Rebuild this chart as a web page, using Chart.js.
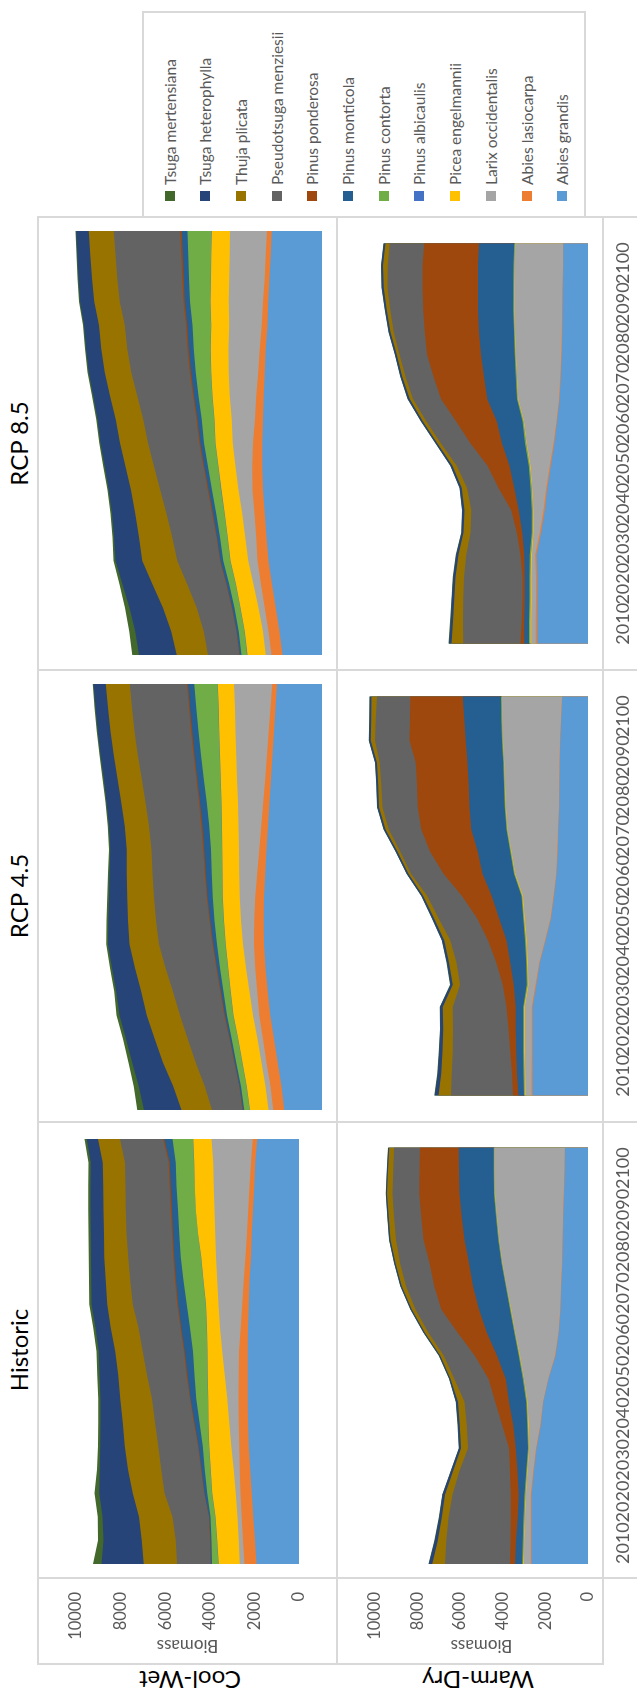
<!DOCTYPE html>
<html>
<head>
<meta charset="utf-8">
<title>Biomass by species</title>
<script src="https://cdn.jsdelivr.net/npm/chart.js@4.4.1/dist/chart.umd.min.js"></script>
<style>
  html, body { margin: 0; padding: 0; background: #fff; }
  body { width: 637px; height: 1696px; overflow: hidden; position: relative; font-family: Lato, "Open Sans", sans-serif; }
  /* the whole sheet is laid out landscape and turned a quarter turn counter-clockwise */
  #sheet { position: absolute; left: 0; top: 0; width: 1696px; height: 637px; transform-origin: 0 0; transform: translate(0px, 1696px) rotate(-90deg); }
  canvas { position: absolute; }
  .line { position: absolute; background: #d9d9d9; z-index: 5; }
  .head { position: absolute; font-size: 24px; line-height: 30px; height: 30px; text-align: center; color: #000; white-space: nowrap; }
  .rowlab { position: absolute; width: 200px; height: 30px; line-height: 30px; font-size: 24px; text-align: center; color: #000; transform: rotate(-90deg); transform-origin: 50% 50%; white-space: nowrap; }
  .leg-sq { position: absolute; width: 10px; height: 10px; }
  .leg-tx { position: absolute; font-size: 15.5px; line-height: 20px; height: 20px; color: #595959; white-space: nowrap; }
</style>
</head>
<body>
<div id="sheet"></div>
<script>
// ---- categories and labels ----
const years = ['2010','2015','2020','2025','2030','2035','2040','2045','2050','2055','2060','2065','2070','2075','2080','2085','2090','2095','2100'];
const yearLabels = ['2010','2020','2030','2040','2050','2060','2070','2080','2090','2100'];
const biomassTicks = [0, 2000, 4000, 6000, 8000, 10000];
const scenarios = ['Historic', 'RCP 4.5', 'RCP 8.5'];
const climates = ['Cool-Wet', 'Warm-Dry'];

// stacking order, first entry sits on the axis
const species = ['Abies grandis','Abies lasiocarpa','Larix occidentalis','Picea engelmannii','Pinus albicaulis','Pinus contorta','Pinus monticola','Pinus ponderosa','Pseudotsuga menziesii','Thuja plicata','Tsuga heterophylla','Tsuga mertensiana'];
const colors  = ['#5B9BD5','#ED7D31','#A5A5A5','#FFC000','#4472C4','#70AD47','#255E91','#9E480E','#636363','#997300','#264478','#43682B'];

// ---- biomass per species, rows follow the species order above ----
const historicCoolWet = [
  [1905,1975,2050,2120,2190,2260,2290,2305,2305,2305,2290,2260,2220,2160,2120,2060,2005,1960,1875],
  [540,540,525,500,470,425,410,410,400,385,325,285,255,240,215,215,215,200,200],
  [215,185,185,215,270,355,425,500,625,755,925,1065,1195,1320,1420,1520,1605,1690,1850],
  [945,970,985,1055,1030,985,930,855,760,660,585,560,615,660,770,830,845,845,815],
  [10,10,10,10,10,10,10,10,10,10,10,10,10,10,10,10,10,10,10],
  [285,240,215,215,255,285,400,525,585,640,755,855,880,910,840,795,810,825,925],
  [55,55,50,120,145,190,225,255,320,365,385,385,340,295,275,265,260,260,365],
  [15,15,20,20,25,25,30,30,35,35,40,40,45,45,50,50,55,55,60],
  [1495,1535,1635,1780,1780,1780,1735,1705,1780,1850,1875,1990,2005,2020,2035,2020,1975,1960,1920],
  [1495,1520,1495,1420,1495,1495,1450,1420,1280,1235,1250,1140,1095,1065,1010,995,995,995,995],
  [1890,1720,1635,1495,1265,1095,995,880,840,740,685,710,655,595,585,585,570,540,500],
  [385,240,215,215,115,100,100,100,100,100,100,100,100,100,100,100,100,100,100]
];
const historicWarmDry = [
  [2655,2655,2655,2655,2545,2415,2220,2095,1850,1530,1370,1290,1255,1210,1190,1160,1125,1095,1080],
  [30,30,30,30,25,25,20,20,20,15,15,15,10,10,10,10,10,10,10],
  [335,305,270,220,265,315,545,725,1130,1650,2030,2300,2555,2795,2970,3105,3230,3280,3295],
  [30,30,30,30,25,25,25,20,20,20,15,15,10,10,10,8,8,8,8],
  [5,5,5,5,5,5,5,5,5,5,5,5,5,5,5,5,5,5,5],
  [35,35,35,35,35,35,35,35,35,35,30,30,30,30,30,30,30,30,30],
  [340,320,275,275,405,565,660,805,805,1015,1290,1465,1530,1530,1580,1610,1625,1625,1640],
  [225,260,320,370,355,320,515,645,805,1045,1370,1770,1820,1850,1930,1900,1885,1850,1820],
  [3060,3010,2930,2735,2385,1930,1660,1450,1610,1450,1370,1200,1330,1385,1290,1270,1255,1240,1210],
  [595,405,315,360,290,325,330,305,170,170,170,185,195,210,255,255,260,245,230],
  [160,140,120,110,100,95,90,85,60,60,60,60,55,55,55,55,50,50,50],
  [20,20,15,15,15,15,15,15,10,10,10,10,10,10,10,10,10,10,10]
];
const rcp45CoolWet = [
  [1450,1560,1705,1845,1990,2085,2175,2230,2245,2230,2185,2130,2075,2015,1960,1905,1845,1790,1730],
  [425,425,425,425,420,410,395,385,360,335,310,285,260,240,225,210,200,190,185],
  [185,190,200,215,240,290,350,425,510,600,690,780,880,980,1080,1180,1280,1370,1465],
  [710,715,725,740,750,720,690,665,655,650,645,640,635,630,630,630,625,625,625],
  [10,10,10,10,10,10,10,10,10,10,10,10,10,10,10,10,10,10,10],
  [215,220,230,235,240,270,300,325,350,375,400,425,480,560,640,720,790,850,895],
  [45,50,60,70,85,100,120,140,170,200,230,260,260,255,250,245,245,240,240],
  [15,15,20,20,25,25,30,30,30,35,35,35,40,40,40,45,45,45,45],
  [1180,1320,1480,1600,1700,1820,1950,2060,2050,2030,2010,1990,2010,2060,2100,2140,2170,2190,2200],
  [1165,1220,1260,1275,1280,1220,1170,1135,1080,1030,990,950,940,935,930,925,925,925,925],
  [1450,1320,1180,1100,1050,960,890,825,760,700,670,640,600,560,530,510,490,480,470],
  [255,200,150,120,110,80,70,70,65,60,55,50,50,45,45,40,40,35,30]
];
const rcp45WarmDry = [
  [2415,2415,2415,2415,2415,2255,2095,1850,1610,1480,1370,1320,1290,1255,1240,1225,1210,1160,1125],
  [40,40,35,35,30,30,25,25,20,20,15,15,15,10,10,10,10,10,10],
  [260,275,300,300,305,305,500,790,1125,1330,1780,1990,2190,2305,2360,2410,2475,2555,2605],
  [30,30,30,30,30,30,30,30,25,25,20,20,15,15,10,10,10,8,8],
  [5,5,5,5,5,5,5,5,5,5,5,5,5,5,5,5,5,5,5],
  [35,35,35,35,35,35,35,35,35,35,30,30,30,30,30,30,30,30,30],
  [240,290,305,320,320,565,690,805,1045,1290,1370,1415,1530,1530,1530,1545,1580,1610,1660],
  [240,210,260,320,405,485,610,805,965,1290,1690,2075,2175,2255,2255,2255,2445,2365,2285],
  [2690,2625,2495,2415,2335,1850,1725,1640,1675,1515,1415,1290,1415,1530,1545,1560,1495,1480,1450],
  [545,460,450,420,430,320,325,270,195,170,110,125,140,155,140,125,185,200,230],
  [160,150,140,130,120,100,95,90,85,80,75,75,75,75,75,75,80,80,80],
  [20,20,20,15,15,15,15,10,10,10,10,10,10,10,10,10,10,10,10]
];
const rcp85CoolWet = [
  [1520,1630,1775,1920,2060,2130,2200,2270,2300,2300,2270,2240,2200,2160,2100,2070,2015,1975,1930],
  [425,425,425,425,425,400,400,400,385,355,310,285,255,230,215,200,185,185,185],
  [215,215,240,285,355,425,470,540,640,780,895,1020,1135,1205,1250,1320,1365,1390,1420],
  [710,700,690,680,680,670,670,660,660,660,660,665,670,680,690,700,700,705,710],
  [10,10,10,10,10,10,10,10,10,10,10,10,10,10,10,10,10,10,10],
  [215,220,230,250,270,290,320,350,390,430,480,530,590,650,720,780,840,880,920],
  [70,75,80,90,100,110,120,130,140,150,160,170,180,190,195,200,205,210,215],
  [15,15,20,20,25,25,30,30,35,35,40,40,45,45,50,50,55,55,60],
  [1205,1260,1350,1500,1640,1700,1760,1830,1900,1970,2050,2150,2250,2320,2360,2450,2500,2530,2555],
  [1205,1250,1300,1340,1350,1280,1200,1130,1100,1080,1060,1040,1020,1000,990,980,975,970,965],
  [1450,1380,1280,1150,1030,960,900,850,800,750,700,650,620,590,570,550,520,500,485],
  [255,230,180,120,75,60,55,50,50,50,45,45,40,40,40,35,35,30,30]
];
const rcp85WarmDry = [
  [2205,2205,2205,2205,2240,2045,1885,1770,1625,1465,1350,1240,1190,1145,1125,1110,1095,1080,1080],
  [65,65,60,60,55,50,45,40,35,30,25,20,20,15,15,15,10,10,10],
  [195,195,185,190,145,270,440,610,840,1170,1405,1770,1875,1975,2030,2080,2105,2105,2075],
  [45,45,45,40,40,35,35,30,30,25,20,20,15,15,10,10,8,6,5],
  [5,5,5,5,5,5,5,5,5,5,5,5,5,5,5,5,5,5,5],
  [45,45,45,45,45,45,40,40,40,40,40,35,35,35,35,30,30,30,30],
  [210,210,210,210,240,405,565,710,835,1000,1125,1290,1385,1465,1515,1530,1530,1545,1530],
  [160,115,95,95,160,240,320,690,965,1370,1770,2015,2190,2350,2365,2385,2415,2415,2385],
  [2495,2545,2575,2545,2365,2015,1740,1370,1335,1290,1290,1210,1225,1190,1350,1435,1515,1515,1495],
  [505,435,395,365,340,300,300,220,180,145,150,150,135,120,135,150,170,200,185],
  [110,105,100,100,95,90,90,90,85,85,80,80,80,80,80,80,80,80,80],
  [30,25,20,20,15,15,15,10,10,10,10,10,10,10,10,10,10,10,10]
];

const panels = [
  [historicCoolWet, rcp45CoolWet, rcp85CoolWet],
  [historicWarmDry, rcp45WarmDry, rcp85WarmDry]
];

// ---- sheet geometry (landscape coordinates) ----
const colEdges = [118, 574, 1026, 1479];
const plotCols = [[132, 557], [586, 1012], [1041, 1465]];
const rowEdges = [38, 337, 603];
const plotRows = [[62, 322], [358, 588]];
const tableLeft = 32, sheetH = 637;
const tickFont = { family: 'Lato', size: 16.5 };
const grey = '#595959';

const sheet = document.getElementById('sheet');

function line(x, y, w, h) {
  const d = document.createElement('div');
  d.className = 'line';
  d.style.left = x + 'px'; d.style.top = y + 'px';
  d.style.width = w + 'px'; d.style.height = h + 'px';
  sheet.appendChild(d);
}

// table rules
line(tableLeft, rowEdges[0] - 1, colEdges[3] - tableLeft, 2);
line(tableLeft, rowEdges[1] - 1, colEdges[3] - tableLeft, 2);
line(tableLeft, rowEdges[2] - 1, colEdges[3] - tableLeft, 2);
line(tableLeft - 1, rowEdges[0] - 1, 2, rowEdges[2] - rowEdges[0] + 2);
colEdges.forEach(x => line(x - 1, rowEdges[0] - 1, 2, sheetH - rowEdges[0] + 1));

// column headings
scenarios.forEach((s, c) => {
  const d = document.createElement('div');
  d.className = 'head';
  d.textContent = s;
  d.style.left = colEdges[c] + 'px';
  d.style.width = (colEdges[c + 1] - colEdges[c]) + 'px';
  d.style.top = '4px';
  sheet.appendChild(d);
});

// row headings
const rowCentres = [190, 478];
climates.forEach((s, r) => {
  const d = document.createElement('div');
  d.className = 'rowlab';
  d.textContent = s;
  d.style.left = (16 - 100) + 'px';
  d.style.top = (rowCentres[r] - 15) + 'px';
  sheet.appendChild(d);
});

// legend box, newest series listed first
line(1479, 142, 205, 2);
line(1479, 584, 205, 2);
line(1683, 142, 2, 444);
for (let i = 0; i < species.length; i++) {
  const s = species.length - 1 - i;
  const cy = 169.5 + 35.7 * i;
  const sq = document.createElement('div');
  sq.className = 'leg-sq';
  sq.style.background = colors[s];
  sq.style.left = '1495px';
  sq.style.top = (cy - 5) + 'px';
  sheet.appendChild(sq);
  const tx = document.createElement('div');
  tx.className = 'leg-tx';
  tx.textContent = species[s];
  tx.style.left = '1511px';
  tx.style.top = (cy - 10) + 'px';
  sheet.appendChild(tx);
}

// ---- one stacked area chart per scenario / climate ----
function drawPanel(r, c) {
  const left = c === 0 ? tableLeft : colEdges[c];
  const right = colEdges[c + 1];
  const top = rowEdges[r];
  const bottom = r === 0 ? rowEdges[1] : sheetH;
  const cv = document.createElement('canvas');
  cv.width = right - left; cv.height = bottom - top;
  cv.style.left = left + 'px'; cv.style.top = top + 'px';
  sheet.appendChild(cv);

  const showAxis = c === 0;
  const showYears = r === 1;
  const yAxisWidth = plotCols[0][0] - tableLeft;
  const xAxisHeight = sheetH - plotRows[1][1];

  const yScale = {
    stacked: true, min: 0, max: 10000, display: showAxis,
    grid: { display: false, drawTicks: false }, border: { display: false },
    afterBuildTicks: s => { s.ticks = biomassTicks.map(v => ({ value: v })); },
    ticks: { padding: 28, color: grey, font: tickFont, callback: v => String(v) },
    title: { display: true, text: 'Biomass', color: grey, font: { family: 'Lato', size: 17 }, padding: { top: 8, bottom: 0 } }
  };
  if (showAxis) yScale.afterFit = s => { s.width = yAxisWidth; };

  const scales = {
    x: { type: 'category', display: false, offset: false },
    y: yScale
  };
  if (showYears) {
    scales.years = {
      type: 'category', axis: 'x', position: 'bottom', labels: yearLabels, offset: true,
      grid: { display: false, drawTicks: false }, border: { display: false },
      afterFit: s => { s.height = xAxisHeight; },
      ticks: { autoSkip: false, maxRotation: 0, minRotation: 0, padding: 24, color: grey, font: { family: 'Lato', size: 18 } }
    };
  }

  new Chart(cv, {
    type: 'line',
    data: {
      labels: years,
      datasets: species.map((name, i) => ({
        label: name,
        data: panels[r][c][i],
        backgroundColor: colors[i],
        borderColor: colors[i],
        borderWidth: 0,
        pointRadius: 0,
        tension: 0,
        fill: 'origin'
      }))
    },
    options: {
      responsive: false,
      animation: false,
      devicePixelRatio: 1,
      events: [],
      layout: {
        padding: {
          left: showAxis ? 0 : plotCols[c][0] - left,
          right: right - plotCols[c][1],
          top: plotRows[r][0] - top,
          bottom: r === 0 ? bottom - plotRows[0][1] : 0
        }
      },
      plugins: { legend: { display: false }, tooltip: { enabled: false } },
      scales
    }
  });
}

for (let r = 0; r < 2; r++) for (let c = 0; c < 3; c++) drawPanel(r, c);
</script>
</body>
</html>
